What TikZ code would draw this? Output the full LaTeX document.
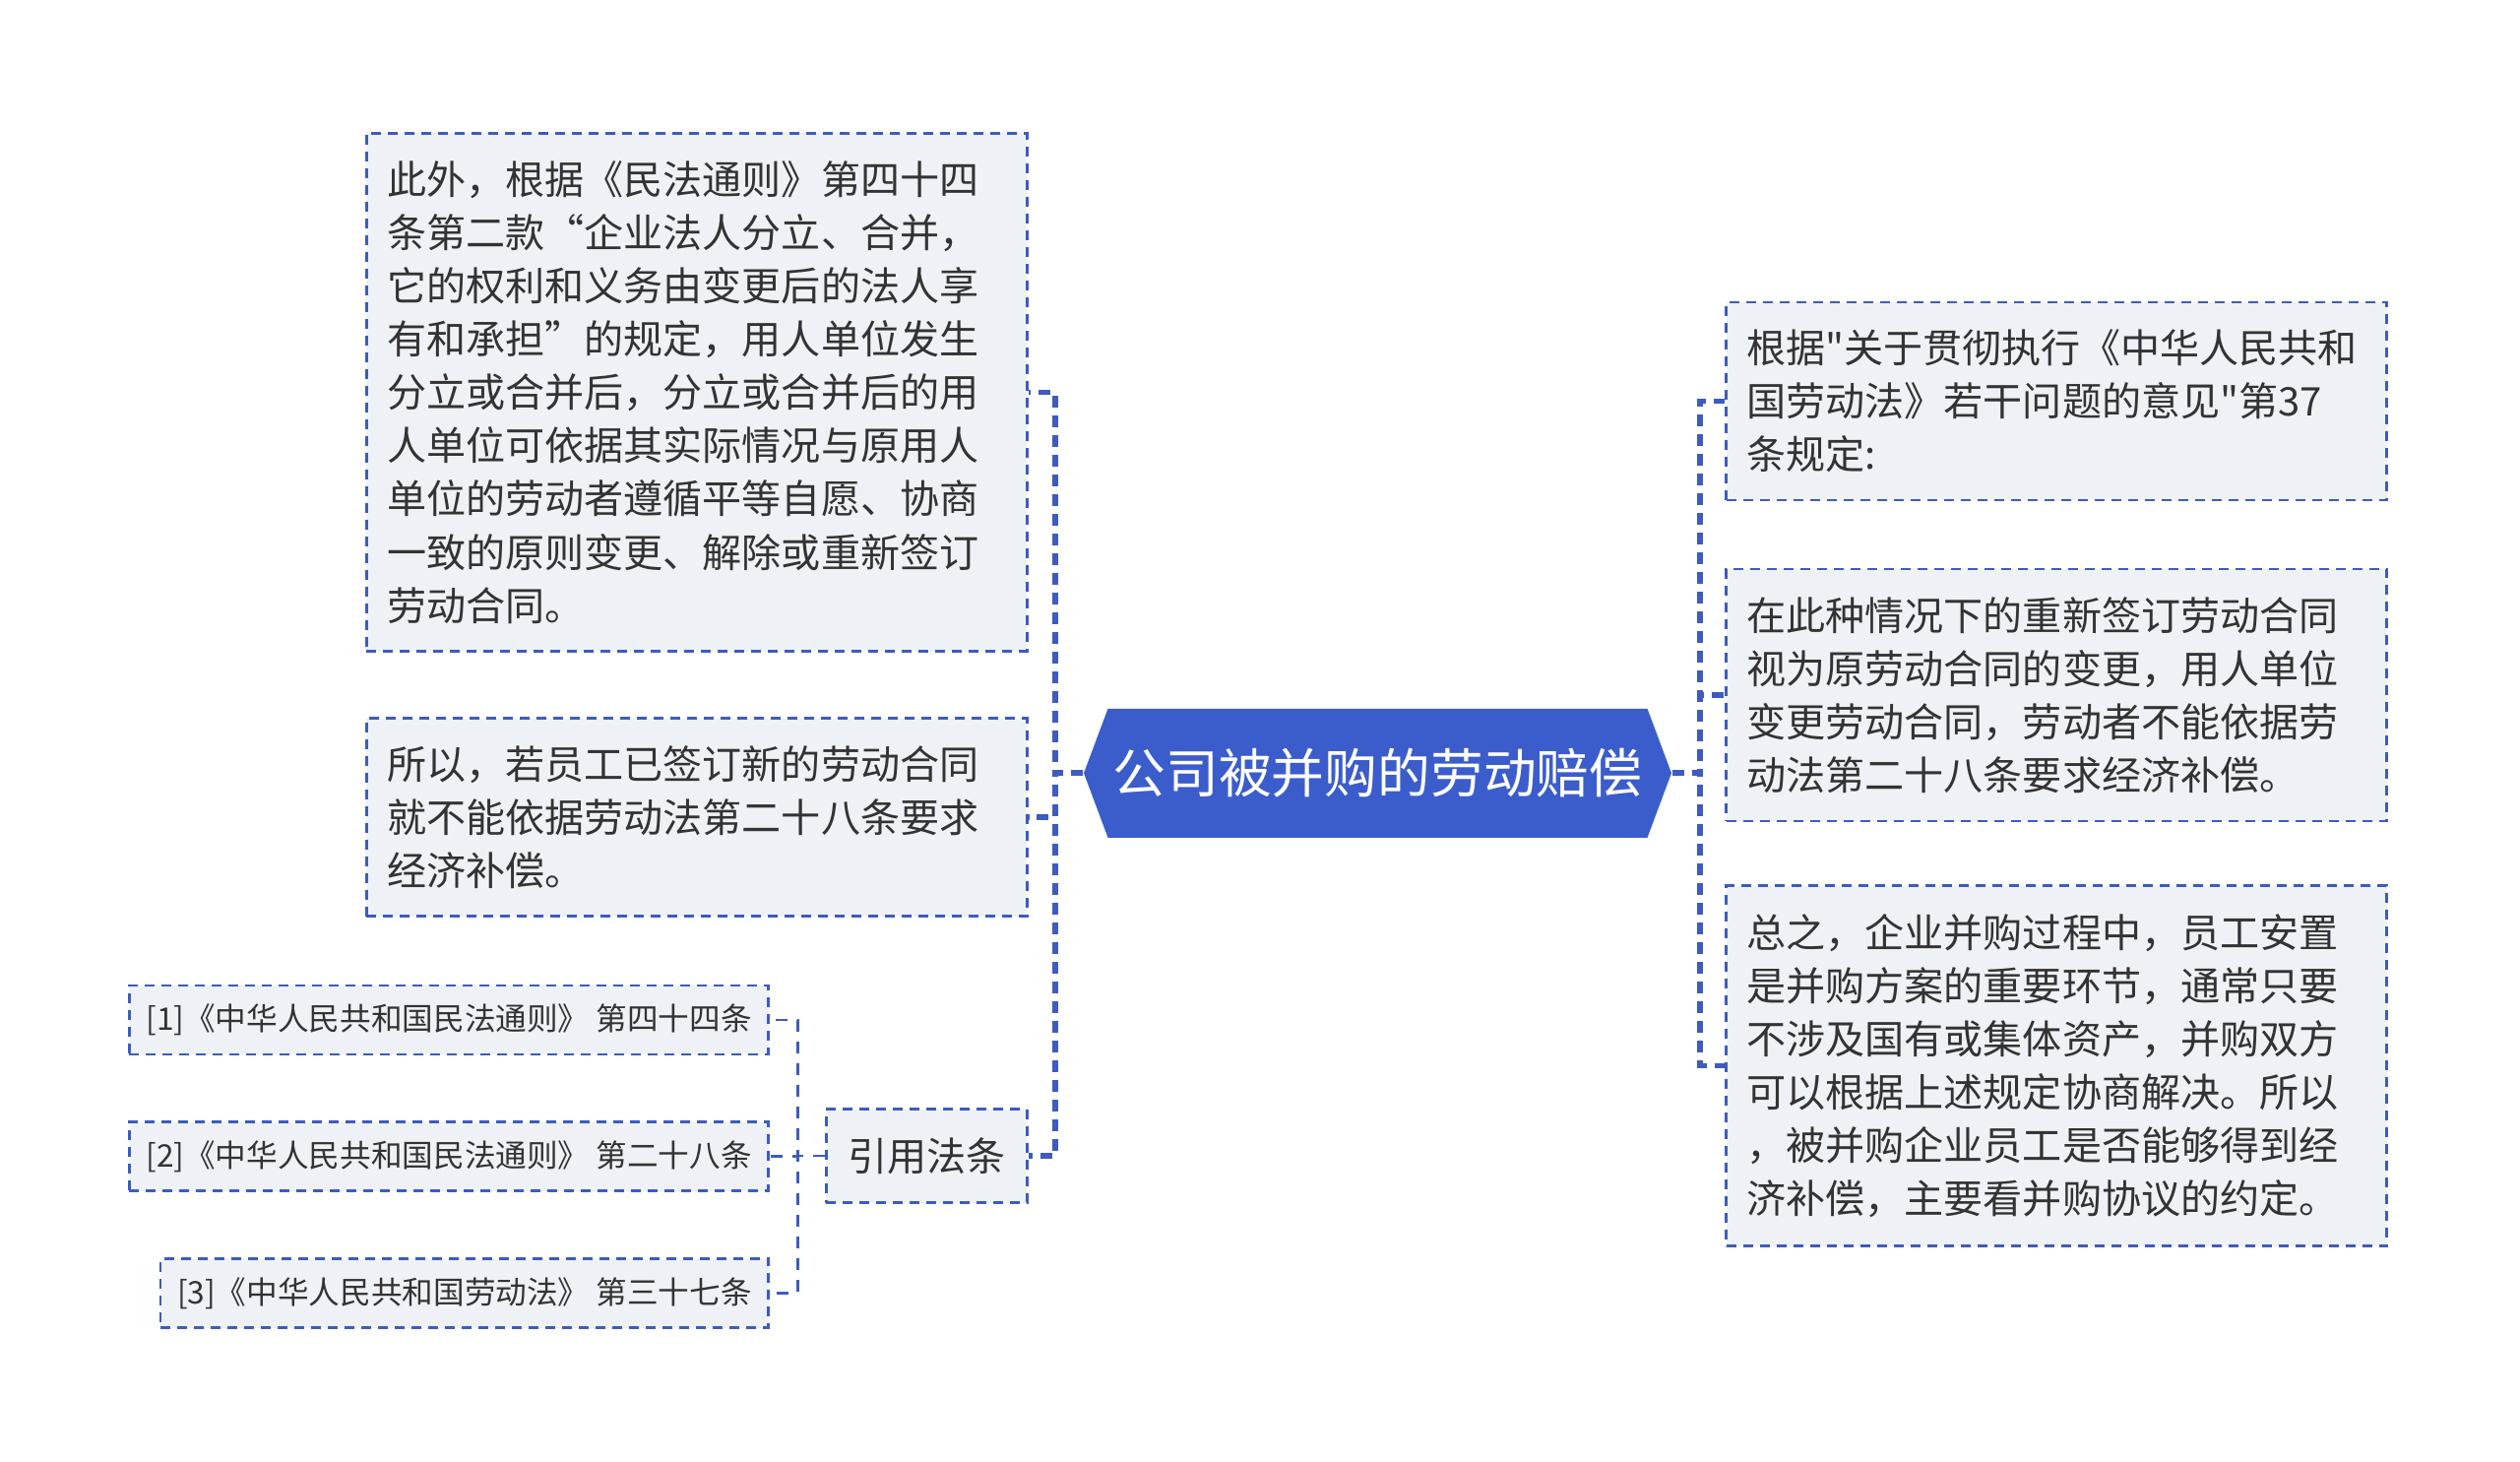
\documentclass[tikz,border=0pt]{standalone}
\usepackage{fontspec}
\setmainfont{Noto Sans CJK SC}[Ligatures=TeXOff]
\usetikzlibrary{shapes.symbols}
\definecolor{linkblue}{HTML}{3D5BC0}
\definecolor{rootblue}{HTML}{3B5DCC}
\definecolor{boxgray}{HTML}{EEF1F6}
\definecolor{textgray}{HTML}{333333}

\begin{document}
\begin{tikzpicture}[x=0.1mm,y=-0.1mm,
	box/.style={draw=linkblue,line width=0.75pt,dash pattern=on 1mm off 0.7mm,fill=boxgray,text=textgray,align=left,font=\fontsize{11.4pt}{15.4pt}\selectfont,inner xsep=2.1mm,inner ysep=0pt},
	refbox/.style={box,font=\fontsize{9pt}{12pt}\selectfont,inner xsep=1.7mm,minimum height=7mm,anchor=east},
	link/.style={draw=linkblue,line width=1.6pt,dash pattern=on 1.2mm off 0.8mm},
	thin link/.style={draw=linkblue,line width=0.75pt,dash pattern=on 1.2mm off 1mm}]
	\fill[white] (0,0) rectangle (2560,1485);
	\useasboundingbox (0,0) rectangle (2560,1485);
	\node[signal,signal to=west and east,signal from=nowhere,signal pointer angle=139,fill=rootblue,text=white,font=\fontsize{15.3pt}{18pt}\selectfont,minimum width=59.7mm,minimum height=13.1mm,inner sep=0pt] (root) at (1399.5,785.3) {公司被并购的劳动赔偿};
	\node[box,text width=62.9mm,minimum height=52.6mm] (l1) at (707.8,398.4) {此外，根据《民法通则》第四十四\\条第二款“企业法人分立、合并，\\它的权利和义务由变更后的法人享\\有和承担”的规定，用人单位发生\\分立或合并后，分立或合并后的用\\人单位可依据其实际情况与原用人\\单位的劳动者遵循平等自愿、协商\\一致的原则变更、解除或重新签订\\劳动合同。};
	\node[box,text width=62.9mm,minimum height=20.1mm] (l2) at (707.8,830.2) {所以，若员工已签订新的劳动合同\\就不能依据劳动法第二十八条要求\\经济补偿。};
	\node[box,minimum width=20.4mm,minimum height=9.5mm,inner xsep=0pt] (cite) at (941.3,1174) {引用法条};
	\node[refbox] (ref1) at (782.1,1036) {[1]《中华人民共和国民法通则》 第四十四条};
	\node[refbox] (ref2) at (782.1,1174.7) {[2]《中华人民共和国民法通则》 第二十八条};
	\node[refbox] (ref3) at (782.1,1313.5) {[3]《中华人民共和国劳动法》 第三十七条};
	\node[box,text width=62.9mm,minimum height=20.1mm] (r1) at (2089,407.4) {根据"关于贯彻执行《中华人民共和\\国劳动法》若干问题的意见"第37\\条规定:};
	\node[box,text width=62.9mm,minimum height=25.6mm] (r2) at (2089,706) {在此种情况下的重新签订劳动合同\\视为原劳动合同的变更，用人单位\\变更劳动合同，劳动者不能依据劳\\动法第二十八条要求经济补偿。};
	\node[box,text width=62.9mm,minimum height=36.6mm] (r3) at (2089,1082.5) {总之，企业并购过程中，员工安置\\是并购方案的重要环节，通常只要\\不涉及国有或集体资产，并购双方\\可以根据上述规定协商解决。所以\\，被并购企业员工是否能够得到经\\济补偿，主要看并购协议的约定。};
	\draw[link] (root.west) -- ++(-28.5,0) |- (l1.east);
	\draw[link] (root.west) -- ++(-28.5,0) |- (l2.east);
	\draw[link] (root.west) -- ++(-28.5,0) |- (cite.east);
	\draw[link] (root.east) -- ++(28,0) |- (r1.west);
	\draw[link] (root.east) -- ++(28,0) |- (r2.west);
	\draw[link] (root.east) -- ++(28,0) |- (r3.west);
	\draw[thin link] (cite.west) -- ++(-27.7,0) |- (ref1.east);
	\draw[thin link] (cite.west) -- ++(-27.7,0) |- (ref2.east);
	\draw[thin link] (cite.west) -- ++(-27.7,0) |- (ref3.east);
\end{tikzpicture}
\end{document}
